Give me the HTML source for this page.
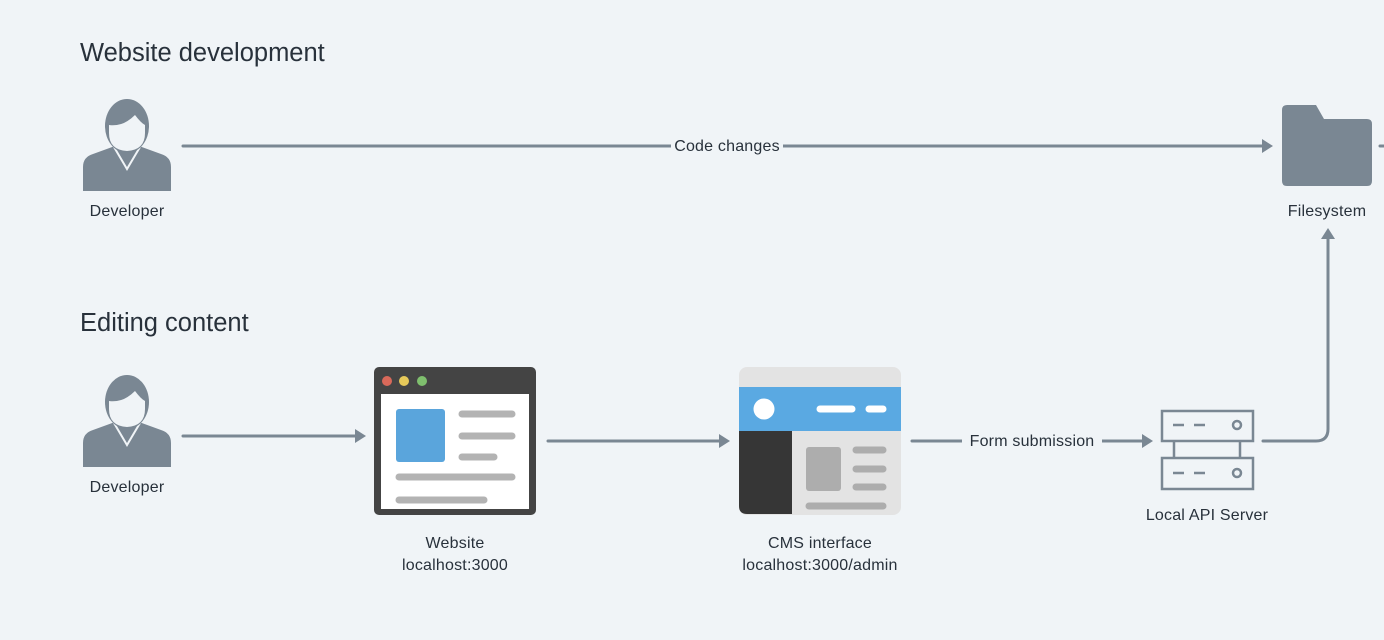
<!DOCTYPE html>
<html><head><meta charset="utf-8"><style>
html,body{margin:0;padding:0;background:#f0f4f7;}
svg{display:block}
text{font-family:"Liberation Sans",sans-serif;fill:#28313b;}
.l{font-size:16px;letter-spacing:0.2px}
</style></head><body>
<svg width="1384" height="640" viewBox="0 0 1384 640" xmlns="http://www.w3.org/2000/svg">
<rect width="1384" height="640" fill="#f0f4f7"/>
<defs>
<g id="dev">
  <path d="M-44,92 L-44,68 Q-44,58 -34,55 L-12,47 L12,47 L34,55 Q44,58 44,68 L44,92 Z" fill="#7a8793"/>
  <path d="M-13,48 L0,70 L13,48" fill="none" stroke="#f0f4f7" stroke-width="2"/>
  <ellipse cx="0" cy="27" rx="22" ry="27" fill="#7a8793"/>
  <path d="M-18,26 Q-4,28 8,16 Q14,24 18,26 L18,34 Q18,51 0,52 Q-18,51 -18,34 Z" fill="#f0f4f7"/>
</g>
</defs>
<text x="80" y="61" font-size="25.5">Website development</text>
<text x="80" y="331" font-size="25.5">Editing content</text>

<use href="#dev" x="127" y="99"/>
<text class="l" x="127" y="216" text-anchor="middle">Developer</text>
<use href="#dev" x="127" y="375"/>
<text class="l" x="127" y="492" text-anchor="middle">Developer</text>

<g stroke="#7a8793" stroke-width="3" fill="none" stroke-linecap="round">
  <line x1="183" y1="146" x2="1264" y2="146"/>
  <line x1="1380" y1="146" x2="1386" y2="146"/>
  <line x1="183" y1="436" x2="357" y2="436"/>
  <line x1="548" y1="441" x2="721" y2="441"/>
  <line x1="912" y1="441" x2="1144" y2="441"/>
  <path d="M1263,441 L1316,441 Q1328,441 1328,429 L1328,236"/>
</g>
<g fill="#7a8793">
  <path d="M1273,146 L1262,139 L1262,153 Z"/>
  <path d="M366,436 L355,429 L355,443 Z"/>
  <path d="M730,441 L719,434 L719,448 Z"/>
  <path d="M1153,441 L1142,434 L1142,448 Z"/>
  <path d="M1328,228 L1321,239 L1335,239 Z"/>
</g>
<rect x="671" y="134" width="112" height="24" fill="#f0f4f7"/>
<text class="l" x="727" y="151" text-anchor="middle">Code changes</text>
<rect x="962" y="429" width="140" height="24" fill="#f0f4f7"/>
<text class="l" x="1032" y="446" text-anchor="middle">Form submission</text>

<path d="M1282,110 Q1282,105 1287,105 L1316,105 L1324,119 L1367,119 Q1372,119 1372,124 L1372,181 Q1372,186 1367,186 L1287,186 Q1282,186 1282,181 Z" fill="#7a8793"/>
<text class="l" x="1327" y="216" text-anchor="middle">Filesystem</text>

<rect x="374" y="367" width="162" height="148" rx="5" fill="#444"/>
<rect x="381" y="394" width="148" height="115" fill="#fff"/>
<circle cx="387" cy="381" r="5" fill="#d9695a"/>
<circle cx="404" cy="381" r="5" fill="#e6c95a"/>
<circle cx="422" cy="381" r="5" fill="#7fbf6e"/>
<rect x="396" y="409" width="49" height="53" rx="3" fill="#5aa5dc"/>
<g stroke="#b3b3b3" stroke-width="7" stroke-linecap="round">
  <line x1="462" y1="414" x2="512" y2="414"/>
  <line x1="462" y1="436" x2="512" y2="436"/>
  <line x1="462" y1="457" x2="494" y2="457"/>
  <line x1="399" y1="477" x2="512" y2="477"/>
  <line x1="399" y1="500" x2="484" y2="500"/>
</g>
<text class="l" x="455" y="548" text-anchor="middle">Website</text>
<text class="l" x="455" y="570" text-anchor="middle">localhost:3000</text>

<rect x="739" y="367" width="162" height="148" rx="8" fill="#e3e3e3"/>
<path d="M739,431 L792,431 L792,514 L747,514 Q739,514 739,506 Z" fill="#363636"/>
<rect x="739" y="387" width="162" height="44" fill="#5aa9e2"/>
<circle cx="764" cy="409" r="10.5" fill="#fff"/>
<g stroke-linecap="round" stroke-width="7">
  <line x1="820" y1="409" x2="852" y2="409" stroke="#fff"/>
  <line x1="869" y1="409" x2="883" y2="409" stroke="#fff"/>
  <line x1="856" y1="450" x2="883" y2="450" stroke="#adadad"/>
  <line x1="856" y1="469" x2="883" y2="469" stroke="#adadad"/>
  <line x1="856" y1="487" x2="883" y2="487" stroke="#adadad"/>
  <line x1="809" y1="506" x2="883" y2="506" stroke="#adadad"/>
</g>
<rect x="806" y="447" width="35" height="44" rx="3" fill="#adadad"/>
<text class="l" x="820" y="548" text-anchor="middle">CMS interface</text>
<text class="l" x="820" y="570" text-anchor="middle">localhost:3000/admin</text>

<g stroke="#7a8793" stroke-width="2.5" fill="none">
  <rect x="1162" y="411" width="91" height="30"/>
  <rect x="1162" y="458" width="91" height="31"/>
  <line x1="1174" y1="441" x2="1174" y2="458"/>
  <line x1="1240" y1="441" x2="1240" y2="458"/>
  <line x1="1173" y1="425" x2="1184" y2="425"/>
  <line x1="1194" y1="425" x2="1205" y2="425"/>
  <line x1="1173" y1="473" x2="1184" y2="473"/>
  <line x1="1194" y1="473" x2="1205" y2="473"/>
  <circle cx="1237" cy="425" r="4"/>
  <circle cx="1237" cy="473" r="4"/>
</g>
<text class="l" x="1207" y="520" text-anchor="middle">Local API Server</text>
</svg>
</body></html>
